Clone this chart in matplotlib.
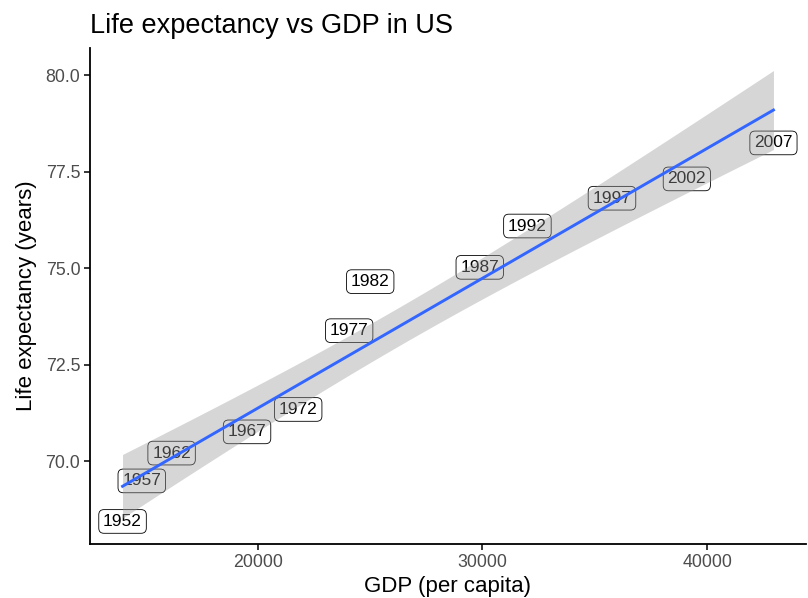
import numpy as np
import matplotlib.pyplot as plt
from matplotlib.ticker import FormatStrFormatter

plt.rcParams['font.family'] = ['Liberation Sans', 'DejaVu Sans']

# gapminder, United States
years = [1952, 1957, 1962, 1967, 1972, 1977, 1982, 1987, 1992, 1997, 2002, 2007]
gdp = [13990.48, 14847.13, 16173.15, 19530.37, 21806.03, 24072.63,
       25009.56, 29884.35, 32003.93, 35767.43, 39097.10, 42951.65]
life_exp = [68.44, 69.49, 70.21, 70.76, 71.34, 73.38,
            74.65, 75.02, 76.09, 76.81, 77.31, 78.242]

x = np.array(gdp)
y = np.array(life_exp)

# linear fit with 95% confidence band
n = len(x)
slope, intercept = np.polyfit(x, y, 1)
xs = np.linspace(x.min(), x.max(), 80)
fit = intercept + slope * xs
resid = y - (intercept + slope * x)
s = np.sqrt(np.sum(resid ** 2) / (n - 2))
t_crit = 2.228  # t(0.975, df=10)
se = s * np.sqrt(1 / n + (xs - x.mean()) ** 2 / np.sum((x - x.mean()) ** 2))
lo, hi = fit - t_crit * se, fit + t_crit * se

fig = plt.figure(figsize=(8.08, 5.98), dpi=100)
ax = fig.add_axes([90 / 808, 54 / 598, 716 / 808, 496 / 598])

for yr, gx, ly in zip(years, gdp, life_exp):
    ax.text(gx, ly, str(yr), ha='center', va='center', fontsize=12.5, zorder=2,
            bbox=dict(boxstyle='round,pad=0.25,rounding_size=0.3',
                      fc='white', ec='black', lw=0.6))

ax.fill_between(xs, lo, hi, color='#999999', alpha=0.4, lw=0, zorder=3)
ax.plot(xs, fit, color='#3366FF', lw=2.1, zorder=4)

xr = x.max() - x.min()
ax.set_xlim(x.min() - 0.05 * xr, x.max() + 0.05 * xr)
ymin, ymax = min(y.min(), lo.min()), max(y.max(), hi.max())
yr_ = ymax - ymin
ax.set_ylim(ymin - 0.05 * yr_, ymax + 0.05 * yr_)

ax.set_xticks([20000, 30000, 40000])
ax.set_yticks([70.0, 72.5, 75.0, 77.5, 80.0])
ax.yaxis.set_major_formatter(FormatStrFormatter('%.1f'))

for side in ['top', 'right']:
    ax.spines[side].set_visible(False)
for side in ['left', 'bottom']:
    ax.spines[side].set_linewidth(1.3)
ax.tick_params(length=4, width=1.1, labelsize=12.8, labelcolor='#4D4D4D', pad=3)

ax.set_xlabel('GDP (per capita)', fontsize=16, labelpad=4)
ax.set_ylabel('Life expectancy (years)', fontsize=16, labelpad=6)
ax.set_title('Life expectancy vs GDP in US', fontsize=19.5, loc='left', pad=11)

fig.savefig('out.png', dpi=100)
